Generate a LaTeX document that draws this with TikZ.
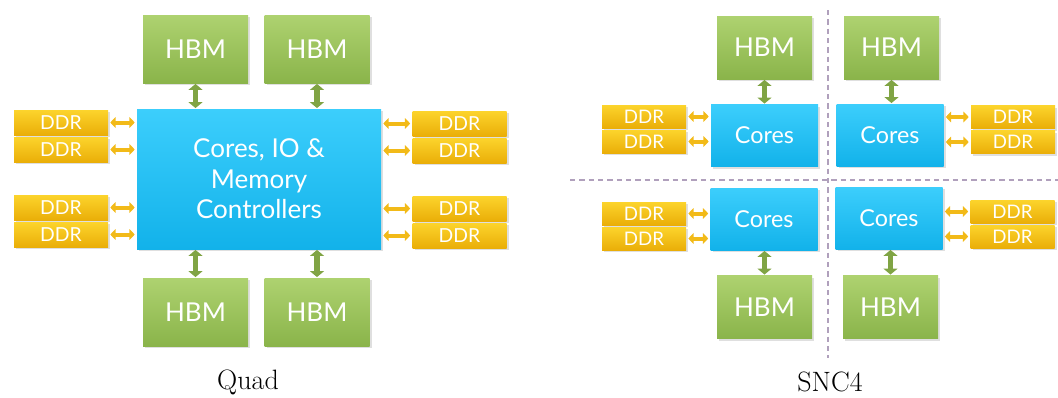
\documentclass[tikz,border=0pt]{standalone}
\usepackage{fontspec}
\usepackage{tikz}
\usetikzlibrary{arrows.meta, shadows}
\newfontfamily\boxfont{Lato}
\definecolor{hbmtop}{RGB}{174,210,112}
\definecolor{hbmbot}{RGB}{138,180,74}
\definecolor{coretop}{RGB}{60,206,252}
\definecolor{corebot}{RGB}{18,178,234}
\definecolor{ddrtop}{RGB}{252,212,44}
\definecolor{ddrbot}{RGB}{234,174,8}
\definecolor{hbmarrow}{RGB}{128,164,68}
\definecolor{ddrarrow}{RGB}{242,186,24}
\definecolor{splitline}{RGB}{176,160,188}

\begin{document}
\begin{tikzpicture}[x=0.75pt, y=-0.75pt,
    box/.style={rectangle, inner sep=0pt, text=white,
        drop shadow={opacity=0.25, shadow xshift=1.5pt, shadow yshift=-1.5pt}},
    hbm/.style={box, top color=hbmtop, bottom color=hbmbot,
        font=\boxfont\fontsize{19.5}{21}\selectfont},
    bighbm/.style={hbm, minimum width=78.75pt, minimum height=51pt},
    smallhbm/.style={hbm, minimum width=71.25pt, minimum height=47.25pt},
    ctrl/.style={box, top color=coretop, bottom color=corebot},
    ddr/.style={box, top color=ddrtop, bottom color=ddrbot},
    bigddr/.style={ddr, minimum width=70.5pt, minimum height=18.75pt,
        font=\boxfont\fontsize{14.5}{15}\selectfont},
    smallddr/.style={ddr, minimum width=63pt, minimum height=17.25pt,
        font=\boxfont\fontsize{14}{14}\selectfont},
    hbmlink/.style={{Triangle[width=10.5pt,length=4.5pt]}-{Triangle[width=10.5pt,length=4.5pt]},
        line width=4pt, hbmarrow, shorten >=0.5pt, shorten <=0.5pt},
    ddrlink/.style={{Triangle[width=8pt,length=4pt]}-{Triangle[width=8pt,length=4pt]},
        line width=3pt, ddrarrow, shorten >=1.5pt, shorten <=1.5pt},
    split/.style={splitline, line width=0.9pt, dash pattern=on 4pt off 3pt},
    caption/.style={font=\fontsize{21}{23}\selectfont}]
    \useasboundingbox (0,0) rectangle (1058,397);

    % ---- Quad ----
    \node[ctrl, minimum width=183pt, minimum height=105pt, align=center,
          font=\boxfont\fontsize{19.5}{23}\selectfont]
        (core) at (259,179) {Cores, IO \&\\Memory\\Controllers};

    \node[bighbm] (qhbm1) at (195.5,49) {HBM};
    \node[bighbm] (qhbm2) at (317,49) {HBM};
    \node[bighbm] (qhbm3) at (195.5,312) {HBM};
    \node[bighbm] (qhbm4) at (317,312) {HBM};

    \node[bigddr] (qddrL1) at (61,122.5) {DDR};
    \node[bigddr] (qddrL2) at (61,149.5) {DDR};
    \node[bigddr] (qddrL3) at (61,207.5) {DDR};
    \node[bigddr] (qddrL4) at (61,234.5) {DDR};
    \node[bigddr] (qddrR1) at (459.5,123.5) {DDR};
    \node[bigddr] (qddrR2) at (459.5,150.5) {DDR};
    \node[bigddr] (qddrR3) at (459.5,208.5) {DDR};
    \node[bigddr] (qddrR4) at (459.5,235.5) {DDR};

    % Quad links
    \draw[hbmlink] (qhbm1) -- (qhbm1 |- core.north);
    \draw[hbmlink] (qhbm2) -- (qhbm2 |- core.north);
    \draw[hbmlink] (qhbm3) -- (qhbm3 |- core.south);
    \draw[hbmlink] (qhbm4) -- (qhbm4 |- core.south);
    \foreach \i in {1,...,4} {
        \draw[ddrlink] (qddrL\i) -- (qddrL\i -| core.west);
        \draw[ddrlink] (qddrR\i) -- (qddrR\i -| core.east);
    }

    \node[caption] (quad) at (248,382) {Quad};

    % ---- SNC4 ----
    \draw[split] (570,180) -- (1058,180);
    \draw[split] (828,10) -- (828,358);

    \node[ctrl, minimum width=80.25pt, minimum height=46.5pt,
          font=\boxfont\fontsize{17.5}{19}\selectfont] (cores1) at (764.5,135.5) {Cores};
    \node[ctrl, minimum width=80.25pt, minimum height=46.5pt,
          font=\boxfont\fontsize{17.5}{19}\selectfont] (cores2) at (890,135) {Cores};
    \node[ctrl, minimum width=80.25pt, minimum height=46.5pt,
          font=\boxfont\fontsize{17.5}{19}\selectfont] (cores3) at (764,219) {Cores};
    \node[ctrl, minimum width=80.25pt, minimum height=46.5pt,
          font=\boxfont\fontsize{17.5}{19}\selectfont] (cores4) at (889,218) {Cores};

    \node[smallhbm] (shbm1) at (764.5,47.5) {HBM};
    \node[smallhbm] (shbm2) at (891.5,47.5) {HBM};
    \node[smallhbm] (shbm3) at (764.5,307) {HBM};
    \node[smallhbm] (shbm4) at (890.5,307) {HBM};

    \node[smallddr] (sddr1a) at (644,116.5) {DDR};
    \node[smallddr] (sddr1b) at (644,141.5) {DDR};
    \node[smallddr] (sddr2a) at (1013,117) {DDR};
    \node[smallddr] (sddr2b) at (1013,142) {DDR};
    \node[smallddr] (sddr3a) at (644,213.5) {DDR};
    \node[smallddr] (sddr3b) at (644,238.5) {DDR};
    \node[smallddr] (sddr4a) at (1012.5,211.5) {DDR};
    \node[smallddr] (sddr4b) at (1012.5,236.5) {DDR};

    % SNC4 links
    \draw[hbmlink] (shbm1) -- (shbm1 |- cores1.north);
    \draw[hbmlink] (shbm2) -- (shbm2 |- cores2.north);
    \draw[hbmlink] (shbm3) -- (shbm3 |- cores3.south);
    \draw[hbmlink] (shbm4) -- (shbm4 |- cores4.south);
    \foreach \i in {a,b} {
        \draw[ddrlink] (sddr1\i) -- (sddr1\i -| cores1.west);
        \draw[ddrlink] (sddr2\i) -- (sddr2\i -| cores2.east);
        \draw[ddrlink] (sddr3\i) -- (sddr3\i -| cores3.west);
        \draw[ddrlink] (sddr4\i) -- (sddr4\i -| cores4.east);
    }

    \node[caption] (snc) at (830,382) {SNC4};
\end{tikzpicture}
\end{document}
